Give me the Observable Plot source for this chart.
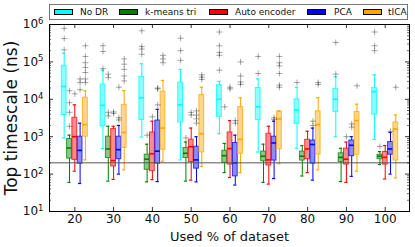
<!DOCTYPE html>
<html><head><meta charset="utf-8">
<script src="https://cdn.jsdelivr.net/npm/d3@7"></script>
<script src="https://cdn.jsdelivr.net/npm/@observablehq/plot@0.6"></script>
<style>
body{margin:0;background:#fff;}
#wrap{position:relative;width:415px;height:247px;font-family:"DejaVu Sans",sans-serif;}
#legend{position:absolute;left:49px;top:4px;width:359px;height:16px;border:1px solid #777;box-sizing:border-box;background:#fff;font-size:9px;color:#111;}
.sw{position:absolute;top:4px;width:19px;height:6px;border:1px solid #000;box-sizing:border-box;}
.lb{position:absolute;top:1px;line-height:12px;white-space:nowrap;}
</style></head><body><div id="wrap"><div id="legend"></div></div>
<script>
// ---- data (ns) ----
const categories = [20, 30, 40, 50, 60, 70, 80, 90, 100];
const methods = ["No DR", "k-means tri", "Auto encoder", "PCA", "tICA"];
const colors = ["#00ffff", "#008000", "#ff0000", "#0000ff", "#ffa500"];
const yTicks = [10, 100, 1000, 10000, 100000, 1000000];

// [whisker low, Q1, median, Q3, whisker high] per category
const noDR = [
  [930, 3800, 22000, 79000, 170000],
  [480, 1900, 6900, 25000, 60000],
  [980, 2800, 11000, 40000, 89000],
  [240, 2400, 7100, 28000, 63000],
  [1200, 3400, 10000, 24000, 30000],
  [390, 2800, 6300, 20000, 35000],
  [490, 2200, 5200, 10000, 21000],
  [1000, 4600, 10000, 19000, 40000],
  [850, 3900, 16000, 20000, 45000]
];
const kmeansTri = [
  [60, 260, 500, 870, 1100],
  [65, 270, 470, 1000, 1900],
  [62, 130, 250, 330, 630],
  [65, 270, 360, 500, 720],
  [110, 200, 310, 420, 660],
  [60, 220, 300, 400, 630],
  [89, 230, 300, 400, 580],
  [63, 210, 280, 360, 490],
  [180, 250, 300, 330, 400]
];
const autoEncoder = [
  [120, 240, 1000, 3200, 7100],
  [72, 160, 230, 1600, 1900],
  [71, 120, 350, 1300, 2600],
  [69, 210, 540, 830, 1700],
  [81, 180, 480, 1300, 2700],
  [54, 170, 240, 1200, 1900],
  [110, 250, 470, 830, 1400],
  [60, 180, 250, 480, 720],
  [74, 180, 280, 390, 580]
];
const pca = [
  [56, 190, 430, 1000, 2300],
  [100, 250, 450, 1000, 2000],
  [63, 190, 410, 2700, 5400],
  [62, 140, 240, 540, 1000],
  [51, 87, 200, 680, 1100],
  [76, 230, 680, 1000, 2600],
  [69, 190, 620, 790, 1700],
  [87, 300, 590, 790, 1000],
  [100, 330, 470, 720, 1300]
];
const tica = [
  [240, 1000, 2100, 11000, 17000],
  [130, 500, 1300, 7100, 17000],
  [220, 450, 1700, 16000, 32000],
  [160, 380, 1200, 13000, 21000],
  [110, 350, 850, 6200, 11000],
  [190, 460, 3000, 4700, 4900],
  [130, 330, 2100, 4800, 11000],
  [120, 330, 2700, 4600, 7400],
  [79, 230, 1600, 2400, 3800]
];

// outliers per category
const noDRFliers = [
  [790000, 420000, 210000], [270000, 190000, 66000], [680000, 260000, 220000, 160000],
  [430000, 200000, 110000], [630000, 270000, 180000, 150000, 60000], [140000, 49000],
  [28000], [330000, 47000], [630000, 270000, 200000]
];
const kmeansTriFliers = [
  [17000, 8100, 4500, 1900], [47000, 38000, 4500, 3600], [1100], [930], [6300],
  [], [], [], [550]
];
const autoEncoderFliers = [
  [14000], [4600, 4200], [3400], [4500, 3800], [21000, 19000], [], [], [1000], []
];
const pcaFliers = [
  [35000, 28000, 18000], [21000, 3200, 2800], [20000, 19000, 7100], [4900, 3800, 3000, 2300],
  [2700, 2300], [3200, 2900], [2600, 2000], [2200, 1800], [1400]
];
const ticaFliers = [
  [270000, 140000, 95000, 71000, 52000, 35000, 28000], [120000, 87000, 63000, 42000, 31000],
  [150000, 120000, 95000], [45000, 39000, 34000], [100000, 42000, 29000, 25000],
  [140000, 95000, 78000, 49000, 24000, 21000], [28000, 25000], [23000], [21000]
];
const refLine = [200];

// ---- layout ----
const W = 415, H = 247, mL = 49, mR = 6, mT = 24, mB = 36;
const xDomain = [13.48, 106.26];
const upx = (xDomain[1] - xDomain[0]) / (W - mL - mR); // data units per pixel
const step = 5.3 * upx, halfBox = 2.4 * upx, halfCap = 1.6 * upx;
const decPx = (H - mT - mB) / 5;

const series = [noDR, kmeansTri, autoEncoder, pca, tica];
const fliersAll = [noDRFliers, kmeansTriFliers, autoEncoderFliers, pcaFliers, ticaFliers];
const boxes = [], flierRows = [];
series.forEach((arr, m) => arr.forEach((s, i) => {
  const cx = categories[i] + (m - 2) * step;
  boxes.push({m, cx, lo: s[0], q1: s[1], med: s[2], q3: s[3], hi: s[4], color: colors[m]});
  fliersAll[m][i].forEach(v => flierRows.push({cx, v}));
}));

const minor = [];
for (let d = 10; d < 1e6; d *= 10) for (let k = 2; k <= 9; k++) minor.push(d * k);
const tk = (px) => Math.pow(10, px / decPx);

const plot = Plot.plot({
  width: W, height: H,
  marginLeft: mL, marginRight: mR, marginTop: mT, marginBottom: mB,
  style: {fontFamily: "DejaVu Sans, sans-serif", fontSize: "12px", color: "#111", background: "white"},
  x: {domain: xDomain, label: null},
  y: {type: "log", domain: [10, 1e6], label: null},
  marks: [
    // whiskers
    Plot.ruleX(boxes, {x: "cx", y1: "lo", y2: "q1", stroke: "color", strokeWidth: 1}),
    Plot.ruleX(boxes, {x: "cx", y1: "q3", y2: "hi", stroke: "color", strokeWidth: 1}),
    Plot.ruleY(boxes, {y: "lo", x1: d => d.cx - halfCap, x2: d => d.cx + halfCap, stroke: "color", strokeWidth: 1.2}),
    Plot.ruleY(boxes, {y: "hi", x1: d => d.cx - halfCap, x2: d => d.cx + halfCap, stroke: "color", strokeWidth: 1.2}),
    // boxes
    Plot.rect(boxes, {x1: d => d.cx - halfBox, x2: d => d.cx + halfBox, y1: "q1", y2: "q3",
      fill: "color", fillOpacity: 0.45, stroke: "color", strokeOpacity: 0.75, strokeWidth: 1}),
    Plot.ruleY(boxes, {y: "med", x1: d => d.cx - halfBox, x2: d => d.cx + halfBox, stroke: "color", strokeWidth: 1.6}),
    // fliers
    Plot.dot(flierRows, {x: "cx", y: "v", symbol: "plus", r: 2.1, stroke: "#000", strokeOpacity: 0.35, strokeWidth: 1}),
    // reference line
    Plot.ruleY(refLine, {stroke: "#555", strokeWidth: 1}),
    // ticks (inside)
    Plot.ruleY(yTicks, {x1: xDomain[0], x2: xDomain[0] + 4 * upx, stroke: "#000", strokeWidth: 0.8}),
    Plot.ruleY(yTicks, {x1: xDomain[1] - 4 * upx, x2: xDomain[1], stroke: "#000", strokeWidth: 0.8}),
    Plot.ruleY(minor, {x1: xDomain[0], x2: xDomain[0] + 2 * upx, stroke: "#000", strokeWidth: 0.6}),
    Plot.ruleY(minor, {x1: xDomain[1] - 2 * upx, x2: xDomain[1], stroke: "#000", strokeWidth: 0.6}),
    Plot.ruleX(categories, {y1: 10, y2: 10 * tk(4), stroke: "#000", strokeWidth: 0.8}),
    Plot.ruleX(categories, {y1: 1e6 / tk(4), y2: 1e6, stroke: "#000", strokeWidth: 0.8}),
    Plot.frame({stroke: "#000", strokeWidth: 1}),
    Plot.axisX(categories, {tickSize: 0, tickPadding: 3, fontSize: 12, label: null}),
    Plot.axisY(yTicks, {tickSize: 0, tickPadding: 6, fontSize: 12, label: null,
      tickFormat: d => String(Math.round(Math.log10(d)))}),
    Plot.text(["Used % of dataset"], {frameAnchor: "bottom", lineAnchor: "middle", dy: 25, fontSize: 13}),
    Plot.text(["Top timescale (ns)"], {frameAnchor: "left", textAnchor: "middle", lineAnchor: "middle", dx: -38, rotate: -90, fontSize: 17})
  ]
});

// superscript exponents on y tick labels
d3.select(plot).selectAll('g[aria-label="y-axis tick label"] text').each(function() {
  const e = this.textContent;
  const t = d3.select(this);
  t.text(null);
  t.append("tspan").text("10");
  t.append("tspan").attr("dy", "-0.5em").attr("font-size", "8.5px").text(e);
});

document.getElementById("wrap").appendChild(plot);
plot.style.position = "absolute"; plot.style.left = "0"; plot.style.top = "0";

// legend
const legend = document.getElementById("legend");
const swX = [4, 69, 159, 257, 313], lbX = [30, 95, 185, 284, 338];
methods.forEach((name, i) => {
  const s = document.createElement("span"); s.className = "sw";
  s.style.left = swX[i] + "px"; s.style.background = colors[i]; legend.appendChild(s);
  const l = document.createElement("span"); l.className = "lb";
  l.style.left = lbX[i] + "px"; l.textContent = name; legend.appendChild(l);
});
document.getElementById("wrap").appendChild(legend);
</script></body></html>
